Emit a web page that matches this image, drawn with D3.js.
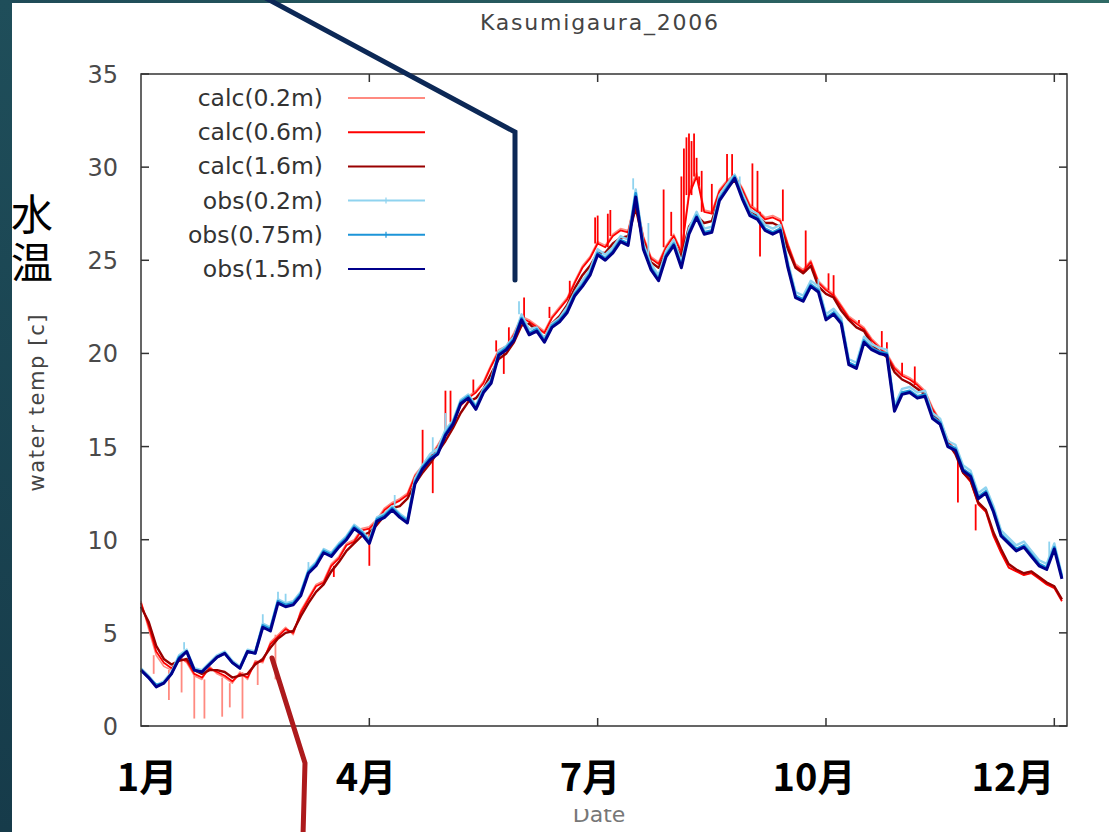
<!DOCTYPE html>
<html>
<head>
<meta charset="utf-8">
<title>Kasumigaura_2006</title>
<script src="https://cdn.jsdelivr.net/npm/d3@7"></script>
<style>
  body { margin: 0; background: #fff; }
  svg { display: block; }
</style>
</head>
<body>
<svg id="chart" width="1109" height="832"></svg>
<script>
// water temperature, one value every 3 days from 1 Jan 2006
var step = 3;

var calc02 = [6.7,5.2,3.8,3.2,3.0,3.7,3.4,2.7,2.5,3.2, 2.8,2.6,2.3,2.9,2.5,3.5,3.4,4.5,4.9,5.3,
  4.9,6.2,6.9,7.6,7.8,8.7,9.1,9.8,10.0,10.6, 10.7,11.1,11.7,12.0,12.2,12.5,13.5,14.0,14.5,15.1,
  15.8,16.4,17.3,17.7,18.0,18.5,19.4,20.2,20.4,21.1, 22.0,21.8,21.5,21.2,22.0,22.5,23.0,23.9,24.7,25.2,
  26.0,25.8,26.4,26.7,26.6,28.4,26.3,25.2,24.9,25.8, 26.4,25.5,28.7,29.7,27.7,27.6,28.8,29.3,29.6,28.9,
  28.0,27.7,27.3,27.4,27.2,25.9,24.8,24.5,25.0,23.9, 23.5,23.2,22.6,22.0,21.7,21.4,20.8,20.4,20.0,19.3,
  18.9,18.7,18.4,18.0,17.1,16.4,15.4,14.8,13.7,13.2, 12.0,11.6,10.3,9.4,8.6,8.4,8.2,8.3,8.0,7.7, 7.5,6.8];

var calc06 = [6.6,5.4,4.0,3.4,3.1,3.6,3.5,2.8,2.6,3.1, 2.9,2.7,2.4,2.8,2.6,3.4,3.5,4.4,4.8,5.2,
  5.0,6.1,6.8,7.5,7.7,8.6,9.0,9.7,9.9,10.5, 10.6,11.0,11.6,11.9,12.1,12.4,13.4,13.9,14.4,15.0,
  15.7,16.3,17.2,17.6,17.9,18.4,19.3,20.1,20.3,21.0, 21.9,21.7,21.4,21.1,21.9,22.4,22.9,23.8,24.6,25.1,
  25.9,25.7,26.3,26.6,26.5,28.3,26.2,25.1,24.8,25.7, 26.3,25.4,28.5,29.5,27.6,27.5,28.7,29.2,29.5,28.8,
  27.9,27.6,27.2,27.3,27.1,25.8,24.7,24.4,24.9,23.8, 23.4,23.1,22.5,21.9,21.6,21.3,20.7,20.3,19.9,19.2,
  18.8,18.6,18.3,17.9,17.0,16.3,15.3,14.7,13.6,13.1, 11.9,11.5,10.2,9.3,8.5,8.3,8.1,8.2,7.9,7.6, 7.4,6.7];

var calc16 = [6.4,5.6,4.3,3.6,3.3,3.5,3.6,3.0,2.8,3.0, 3.0,2.9,2.6,2.7,2.8,3.3,3.6,4.2,4.7,5.0,
  5.1,5.9,6.6,7.2,7.6,8.3,8.8,9.4,9.8,10.2, 10.4,10.8,11.3,11.7,11.8,12.2,13.0,13.6,14.1,14.7,
  15.3,16.0,16.8,17.4,17.6,18.1,18.9,19.7,20.0,20.6, 21.5,21.6,21.2,20.8,21.6,22.0,22.6,23.5,24.2,24.7,
  25.4,25.4,25.9,26.2,26.3,27.8,26.0,24.9,24.6,25.4, 25.9,25.2,26.8,27.4,27.0,27.1,28.4,28.9,29.3,28.6,
  27.7,27.4,27.0,27.0,26.8,25.6,24.6,24.3,24.7,23.6, 23.2,23.0,22.3,21.8,21.4,21.2,20.5,20.1,19.8,19.0,
  18.6,18.4,18.1,17.8,16.8,16.2,15.2,14.6,13.6,13.2, 12.0,11.6,10.4,9.5,8.7,8.4,8.2,8.3,8.0,7.7, 7.5,6.8];

var obs02 = [3.1,2.7,2.2,2.4,2.9,3.8,4.1,3.1,3.0,3.4, 3.8,4.0,3.5,3.2,4.1,4.0,5.5,5.3,6.8,6.6,
  6.7,7.2,8.4,8.8,9.5,9.3,9.8,10.2,10.8,10.5, 10.0,11.2,11.4,11.8,11.4,11.1,13.3,14.0,14.6,14.9,
  15.9,16.4,17.5,17.8,17.2,18.1,18.6,20.1,20.4,20.9, 22.1,21.3,21.4,20.8,21.6,21.9,22.5,23.3,23.9,24.5,
  25.6,25.3,25.7,26.3,26.1,28.8,25.9,24.8,24.2,25.5, 26.1,24.9,26.7,27.6,26.7,26.8,28.5,29.1,29.6,28.6,
  27.7,27.5,26.9,26.7,26.9,24.9,23.3,23.1,23.9,23.6, 22.1,22.4,21.9,19.7,19.5,20.9,20.5,20.3,20.2,17.2,
  18.1,18.2,17.9,18.0,16.8,16.5,15.3,15.1,14.0,13.7, 12.5,12.8,11.8,10.5,10.1,9.7,9.9,9.4,8.9,8.7, 9.8,8.1];

var obs075 = [3.0,2.6,2.2,2.3,2.8,3.7,4.0,3.0,2.9,3.3, 3.7,3.9,3.4,3.1,4.0,3.9,5.4,5.2,6.7,6.5,
  6.6,7.1,8.3,8.7,9.4,9.2,9.7,10.1,10.7,10.4, 9.9,11.1,11.3,11.7,11.3,11.0,13.1,13.9,14.4,14.7,
  15.7,16.3,17.4,17.7,17.1,18.0,18.5,20.0,20.3,20.8, 21.9,21.1,21.3,20.7,21.5,21.8,22.3,23.2,23.7,24.3,
  25.4,25.1,25.5,26.1,25.9,28.6,25.7,24.6,24.0,25.3, 25.9,24.7,26.5,27.4,26.5,26.6,28.3,28.9,29.5,28.4,
  27.5,27.3,26.7,26.5,26.7,24.7,23.1,22.9,23.7,23.4, 21.9,22.2,21.7,19.5,19.3,20.7,20.3,20.1,20.0,17.0,
  17.9,18.0,17.7,17.8,16.6,16.3,15.1,14.9,13.8,13.5, 12.3,12.6,11.6,10.3,9.9,9.5,9.7,9.2,8.7,8.5, 9.6,8.0];

var obs15 = [3.0,2.6,2.1,2.3,2.8,3.6,4.0,3.0,2.9,3.3, 3.7,3.9,3.4,3.1,4.0,3.9,5.3,5.1,6.6,6.4,
  6.5,7.0,8.2,8.6,9.3,9.1,9.6,10.0,10.6,10.3, 9.8,11.0,11.2,11.6,11.2,10.9,13.0,13.8,14.3,14.6,
  15.6,16.2,17.3,17.6,17.0,17.9,18.4,19.9,20.2,20.7, 21.8,21.0,21.2,20.6,21.4,21.7,22.2,23.1,23.6,24.2,
  25.3,25.0,25.4,26.0,25.8,28.4,25.6,24.5,23.9,25.2, 25.8,24.6,26.4,27.3,26.4,26.5,28.2,28.8,29.4,28.3,
  27.4,27.2,26.6,26.4,26.6,24.6,23.0,22.8,23.6,23.3, 21.8,22.1,21.6,19.4,19.2,20.6,20.2,20.0,19.9,16.9,
  17.8,17.9,17.6,17.7,16.5,16.2,15.0,14.8,13.7,13.4, 12.2,12.5,11.5,10.2,9.8,9.4,9.6,9.1,8.6,8.4, 9.5,7.9];

// short excursions [day, value]
var spikes02 = [[5,2.8],[11,1.4],[16,1.8],[21,0.4],[25,0.4],[32,0.5],[35,1.0],[40,0.4],[46,2.2],[53,2.5]];
var spikes06 = [[76,8.0],[90,8.6],[111,15.9],[115,12.5],[120,18.0],[122,18.0],[131,18.6],[140,20.7],
  [143,18.9],[145,21.4],[151,23.0],[161,22.5],[169,23.9],[179,27.3],[180,27.4],[184,27.5],[185,27.7],
  [206,28.8],[209,27.6],[213,29.5],[214,31.0],[215,31.6],[216,31.8],[217,31.4],[218,31.8],[219,30.5],
  [220,29.0],[221,29.8],[225,29.1],[231,30.7],[233,30.7],[241,30.2],[243,29.8],[244,25.2],[253,28.8],
  [262,26.6],[271,24.3],[273,24.2],[283,21.8],[292,21.2],[294,20.6],[300,19.5],[305,19.3],[322,12.0],[329,10.5]];
var spikesObs02 = [[17,4.5],[48,6.0],[54,7.2],[57,7.1],[66,8.8],[100,12.4],[115,15.5],[120,16.8],
  [149,22.8],[194,29.4],[200,27.0],[236,29.5],[267,24.0],[358,9.9]];

var seriesNames = ["calc(0.2m)","calc(0.6m)","calc(1.6m)","obs(0.2m)","obs(0.75m)","obs(1.5m)"];
var yTicks = [0,5,10,15,20,25,30,35];
var dayTicks = [90,180,270,360];
var monthNames = ["1月","4月","7月","10月","12月"];

var allSeries = [calc02, calc06, calc16, obs02, obs075, obs15];
var colors = ["#ff8a80","#ff0000","#990000","#8fd3ef","#1c95d8","#00008b"];
var widths = [1.6, 1.8, 2.4, 2.4, 2.6, 3.0];

var svg = d3.select("#chart");
var x = d3.scaleLinear().domain([0, 365]).range([141, 1067]);
var y = d3.scaleLinear().domain([0, 35]).range([726, 74]);

// slide background strips
var defs = svg.append("defs");
var grad = defs.append("linearGradient").attr("id", "side")
  .attr("x1", 0).attr("y1", 0).attr("x2", 0).attr("y2", 1);
grad.append("stop").attr("offset", 0).attr("stop-color", "#1f4e5a");
grad.append("stop").attr("offset", 1).attr("stop-color", "#163b4a");
var gradTop = defs.append("linearGradient").attr("id", "top")
  .attr("x1", 0).attr("y1", 0).attr("x2", 1).attr("y2", 0);
gradTop.append("stop").attr("offset", 0).attr("stop-color", "#1f4b58");
gradTop.append("stop").attr("offset", 1).attr("stop-color", "#2f6a65");
svg.append("rect").attr("x", 0).attr("y", 0).attr("width", 1109).attr("height", 3).attr("fill", "url(#top)");
svg.append("rect").attr("x", 0).attr("y", 0).attr("width", 12).attr("height", 832).attr("fill", "url(#side)");

var font = "'DejaVu Sans', sans-serif";

// title
svg.append("text").attr("x", 599).attr("y", 30).attr("text-anchor", "middle")
  .attr("textLength", 238).attr("lengthAdjust", "spacing")
  .style("font-family", font).style("font-size", "22px").attr("fill", "#444")
  .text("Kasumigaura_2006");

// series lines
var line = d3.line().x(function (d, i) { return x(i * step); }).y(function (d) { return y(d); });
var plot = svg.append("g");
allSeries.forEach(function (s, k) {
  plot.append("path").datum(s).attr("d", line).attr("fill", "none")
    .attr("stroke", colors[k]).attr("stroke-width", widths[k]).attr("stroke-linejoin", "round");
  var sp = k === 0 ? spikes02 : k === 1 ? spikes06 : k === 3 ? spikesObs02 : [];
  plot.selectAll(null).data(sp).enter().append("line")
    .attr("x1", function (d) { return x(d[0]); }).attr("x2", function (d) { return x(d[0]); })
    .attr("y1", function (d) { return y(s[Math.min(Math.round(d[0] / step), s.length - 1)]); })
    .attr("y2", function (d) { return y(d[1]); })
    .attr("stroke", colors[k]).attr("stroke-width", 1.8);
});

// frame and ticks
svg.append("rect").attr("x", 141).attr("y", 74).attr("width", 926).attr("height", 652)
  .attr("fill", "none").attr("stroke", "#333").attr("stroke-width", 1.5);
var ax = svg.append("g").attr("stroke", "#333").attr("stroke-width", 1.5);
yTicks.forEach(function (t) {
  ax.append("line").attr("x1", 141).attr("x2", 149).attr("y1", y(t)).attr("y2", y(t));
  ax.append("line").attr("x1", 1059).attr("x2", 1067).attr("y1", y(t)).attr("y2", y(t));
});
dayTicks.forEach(function (t) {
  ax.append("line").attr("x1", x(t)).attr("x2", x(t)).attr("y1", 726).attr("y2", 718);
  ax.append("line").attr("x1", x(t)).attr("x2", x(t)).attr("y1", 74).attr("y2", 82);
});
svg.selectAll(".ytl").data(yTicks).enter().append("text")
  .attr("x", 118).attr("y", function (d) { return y(d) + 9; }).attr("text-anchor", "end")
  .style("font-family", font).style("font-size", "24px").attr("fill", "#4a4a4a")
  .text(function (d) { return d; });

// y label
svg.append("text").attr("transform", "translate(44,403) rotate(-90)").attr("text-anchor", "middle")
  .attr("textLength", 177).attr("lengthAdjust", "spacing")
  .style("font-family", font).style("font-size", "21px").attr("fill", "#444")
  .text("water temp [c]");

// x label (mostly hidden under the month labels)
svg.append("text").attr("x", 599).attr("y", 822).attr("text-anchor", "middle")
  .style("font-family", font).style("font-size", "22px").attr("fill", "#777").text("Date");
svg.append("rect").attr("x", 530).attr("y", 745).attr("width", 140).attr("height", 64).attr("fill", "#fff");

// legend
var lg = svg.append("g");
seriesNames.forEach(function (n, k) {
  var ly = 98 + k * 34.2;
  lg.append("text").attr("x", 323).attr("y", ly + 8).attr("text-anchor", "end")
    .style("font-family", font).style("font-size", "23.5px").attr("fill", "#333").text(n);
  lg.append("line").attr("x1", 348).attr("x2", 425).attr("y1", ly).attr("y2", ly)
    .attr("stroke", colors[k]).attr("stroke-width", 2);
  if (k === 3 || k === 4) {
    lg.append("line").attr("x1", 386).attr("x2", 386).attr("y1", ly - 3).attr("y2", ly + 3)
      .attr("stroke", colors[k]).attr("stroke-width", 1.2);
  }
});

// month labels
var monthX = [147, 366, 590, 814, 1013];
svg.selectAll(".ml").data(monthNames).enter().append("text")
  .attr("x", function (d, i) { return monthX[i]; }).attr("y", 791).attr("text-anchor", "middle")
  .style("font-family", "'Noto Sans CJK JP', sans-serif").style("font-weight", "bold")
  .style("font-size", "38px").attr("fill", "#000").text(function (d) { return d; });

// 水温, written top to bottom
svg.append("text").attr("x", 32).attr("y", 193)
  .attr("writing-mode", "tb").style("writing-mode", "vertical-rl")
  .style("letter-spacing", "6px")
  .style("font-family", "'Noto Sans CJK JP', sans-serif")
  .style("font-size", "42px").attr("fill", "#000").text("水温");

// callout lines
svg.append("path").attr("d", "M262,-4 L515,132 L515,280").attr("fill", "none")
  .attr("stroke", "#0c2856").attr("stroke-width", 5).attr("stroke-linecap", "round");
svg.append("path").attr("d", "M272,658 L305,763 L303,836").attr("fill", "none")
  .attr("stroke", "#ad1a1c").attr("stroke-width", 5).attr("stroke-linecap", "round");
</script>
</body>
</html>
